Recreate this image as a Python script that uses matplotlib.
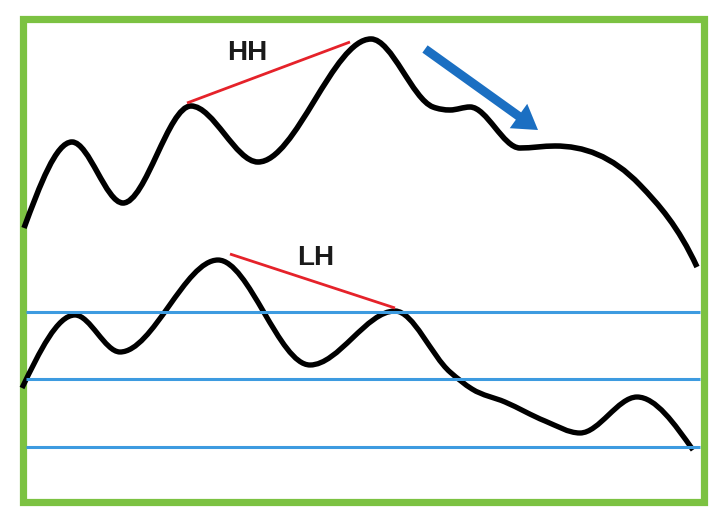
import numpy as np
import matplotlib
matplotlib.use("Agg")
import matplotlib.pyplot as plt
from matplotlib.path import Path
from matplotlib.patches import PathPatch, Rectangle

# ---- data (schematic; x = time, y = level in image units, y grows downward) ----
price_x = [24, 72, 123, 191, 258, 371, 433, 450, 470, 520, 555, 640, 697]
price_y = [228, 142, 203, 106, 162, 39, 107, 110, 107, 148, 146, 185, 267]

osc_x = [22, 75, 120, 218, 310, 395, 450, 472, 505, 545, 580, 637, 693]
osc_y = [388, 315, 352, 260, 365, 311, 372, 389, 402, 421, 433, 397, 450]

levels = [312, 379, 447]

hh_x = [187, 350]
hh_y = [103, 42]
lh_x = [230, 395]
lh_y = [254, 308]

labels = ["HH", "LH"]

GREEN = "#7cc242"
BLUE_LINE = "#3d9be0"
BLUE_ARROW = "#1b6fc2"
RED = "#e5222a"


def smooth_path(xs, ys):
    """Shape-preserving cubic Bezier path through the given points."""
    x = np.asarray(xs, float)
    y = np.asarray(ys, float)
    n = len(x)
    h = np.diff(x)
    d = np.diff(y) / h
    m = np.zeros(n)
    for i in range(1, n - 1):
        if d[i - 1] * d[i] <= 0:
            m[i] = 0.0
        else:
            v = (h[i] * d[i - 1] + h[i - 1] * d[i]) / (h[i - 1] + h[i])
            lim = 3 * min(abs(d[i - 1]), abs(d[i]))
            m[i] = np.sign(v) * min(abs(v), lim)
    m[0] = 1.5 * d[0]
    m[-1] = 1.5 * d[-1]
    verts = [(x[0], y[0])]
    codes = [Path.MOVETO]
    for i in range(n - 1):
        verts += [(x[i] + h[i] / 3, y[i] + m[i] * h[i] / 3),
                  (x[i + 1] - h[i] / 3, y[i + 1] - m[i + 1] * h[i] / 3),
                  (x[i + 1], y[i + 1])]
        codes += [Path.CURVE4] * 3
    return Path(verts, codes)


fig = plt.figure(figsize=(7.17, 5.13), dpi=100)
ax = fig.add_axes([0, 0, 1, 1])
ax.set_xlim(0, 717)
ax.set_ylim(513, 0)
ax.axis("off")

# frame
ax.add_patch(Rectangle((22.5, 19), 704 - 22.5, 501.5 - 19, fill=False,
                       edgecolor=GREEN, linewidth=5.2, joinstyle="miter"))

# horizontal levels
for lv in levels:
    ax.plot([26, 700], [lv, lv], color=BLUE_LINE, linewidth=2.2, solid_capstyle="butt")

# curves
ax.add_patch(PathPatch(smooth_path(price_x, price_y), fill=False, edgecolor="black",
                       linewidth=4.0, capstyle="butt", joinstyle="round"))
ax.add_patch(PathPatch(smooth_path(osc_x, osc_y), fill=False, edgecolor="black",
                       linewidth=3.8, capstyle="butt", joinstyle="round"))

# divergence lines
ax.plot(hh_x, hh_y, color=RED, linewidth=2.0, solid_capstyle="butt")
ax.plot(lh_x, lh_y, color=RED, linewidth=2.0, solid_capstyle="butt")

ax.text(247, 53, labels[0], fontsize=20, family="Liberation Sans", fontweight="bold",
        color="#1a1a1a", ha="center", va="center")
ax.text(316, 258, labels[1], fontsize=20, family="Liberation Sans", fontweight="bold",
        color="#1a1a1a", ha="center", va="center")

# trend arrow
ax.arrow(425, 49, 538 - 425, 130 - 49, width=9, head_width=30, head_length=24,
         length_includes_head=True, color=BLUE_ARROW, linewidth=0)

fig.savefig("out.png", dpi=100, facecolor="white")
